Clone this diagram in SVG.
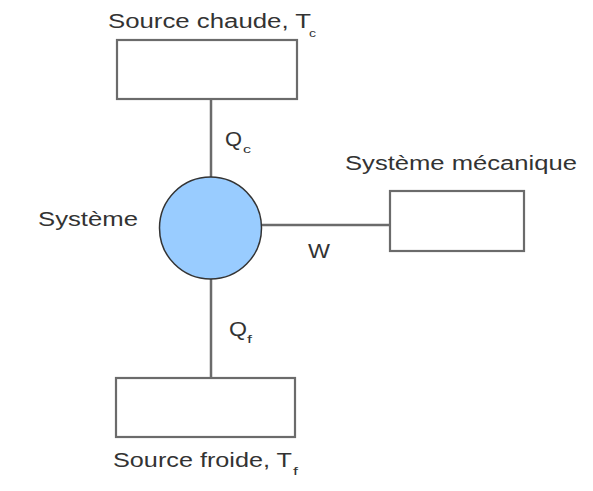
<svg xmlns="http://www.w3.org/2000/svg" width="593" height="491" viewBox="0 0 593 491">
<style>
.box{fill:#fff;stroke:#6b6b6b;stroke-width:2.2}
.ln{stroke:#6b6b6b;stroke-width:2.5;fill:none}
.t{font-family:"Liberation Sans",Arial,sans-serif;font-size:20px;fill:#333}
.s{font-family:"Liberation Sans",Arial,sans-serif;font-size:10px;fill:#333}
</style>
<rect width="593" height="491" fill="#fff"/>
<g id="connectors">
<line class="ln" x1="211" y1="99" x2="211" y2="177"/>
<line class="ln" x1="211" y1="279" x2="211" y2="378"/>
<line class="ln" x1="262" y1="225" x2="390" y2="225"/>
</g>
<g id="hot">
<rect class="box" x="117" y="40" width="180" height="59"/>
<text class="t" x="108" y="28" textLength="203" lengthAdjust="spacingAndGlyphs">Source chaude, T</text><text class="s" x="309" y="37" textLength="7" lengthAdjust="spacingAndGlyphs">c</text>
</g>
<g id="cold">
<rect class="box" x="116" y="378" width="179" height="59"/>
<text class="t" x="113" y="467" textLength="179" lengthAdjust="spacingAndGlyphs">Source froide, T</text><text class="s" x="293" y="475" textLength="5" lengthAdjust="spacingAndGlyphs">f</text>
</g>
<g id="mech">
<rect class="box" x="390" y="191" width="134" height="60"/>
<text class="t" x="345" y="170" textLength="232" lengthAdjust="spacingAndGlyphs">Système mécanique</text>
</g>
<g id="systeme">
<circle cx="210.5" cy="228" r="51" fill="#99ccff" stroke="#333" stroke-width="1.5"/>
<text class="t" x="38" y="226" textLength="100" lengthAdjust="spacingAndGlyphs">Système</text>
</g>
<g id="labels">
<text class="t" x="225" y="146" textLength="17" lengthAdjust="spacingAndGlyphs">Q</text><text class="s" x="243" y="153" textLength="8" lengthAdjust="spacingAndGlyphs">c</text>
<text class="t" x="229" y="336" textLength="18" lengthAdjust="spacingAndGlyphs">Q</text><text class="s" x="247" y="343" textLength="5" lengthAdjust="spacingAndGlyphs">f</text>
<text class="t" x="308" y="258" textLength="22" lengthAdjust="spacingAndGlyphs">W</text>
</g>
</svg>
